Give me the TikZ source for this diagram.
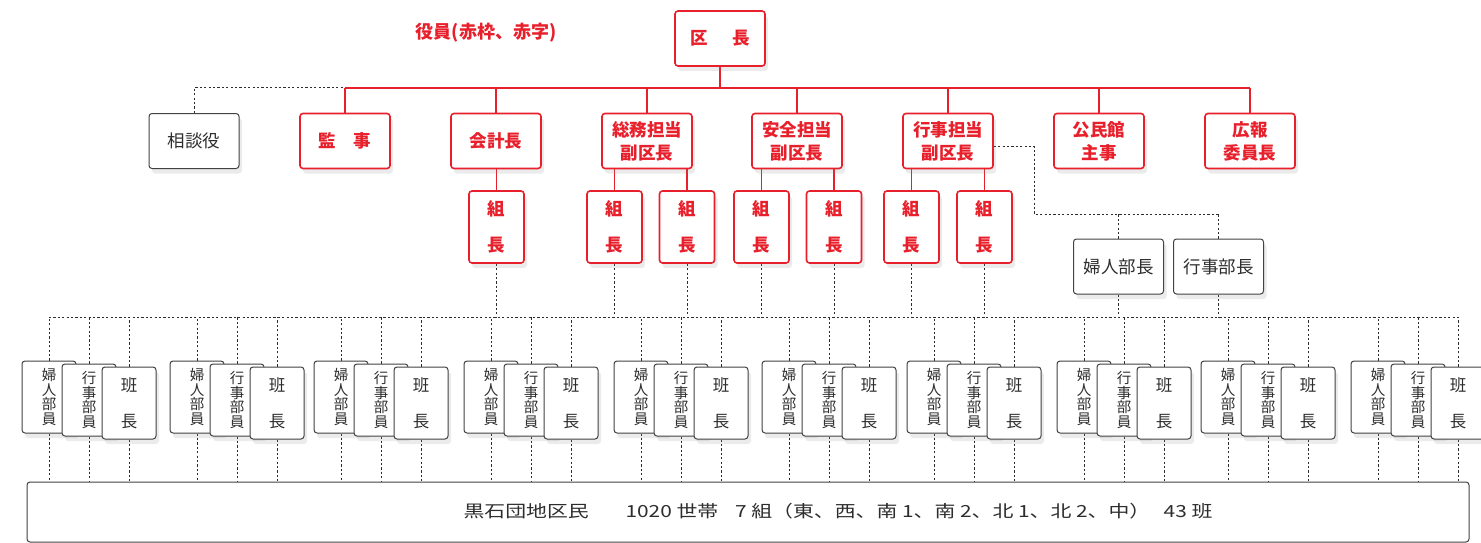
\documentclass[tikz,border=0pt]{standalone}
\usepackage{fontspec}
\setmainfont{Noto Sans CJK JP}
\newfontfamily\hirogaki[FakeStretch=1.25]{Noto Sans CJK JP}
\usetikzlibrary{shadows}
\definecolor{akawaku}{RGB}{232,32,44}
\definecolor{sumi}{RGB}{45,45,45}
\pgfdeclarelayer{bg}
\pgfsetlayers{bg,main}
\tikzset{
  hako/.style={fill=white, rounded corners=3pt, align=center, minimum width=90pt, minimum height=55pt, inner sep=0pt},
  kage/.style={drop shadow={shadow xshift=3pt, shadow yshift=-5pt, opacity=.16}},
  waku/.style={hako, kage, draw=akawaku, text=akawaku, line width=1.6pt, font=\fontsize{17.5}{23}\selectfont\bfseries},
  kumicho/.style={waku, minimum width=55pt, minimum height=72pt, font=\fontsize{17.5}{36}\selectfont\bfseries},
  kuro/.style={hako, kage, draw=sumi!90, text=sumi, line width=1pt, font=\fontsize{17.5}{23}\selectfont},
  buin/.style={kuro, minimum width=54pt, minimum height=72pt, font=\fontsize{14.5}{14.5}\selectfont},
  akasen/.style={draw=akawaku, line width=1.2pt},
  tensen/.style={draw=sumi, line width=1pt, dash pattern=on 2.2pt off 2.2pt}
}
\begin{document}
\begin{tikzpicture}[x=1pt,y=-1pt]
\useasboundingbox (0,0) rectangle (1481,543);
\node[text=akawaku, font=\fontsize{18}{18}\selectfont\bfseries] (yakuin) at (486,33) {役員(赤枠、赤字)};
\node[waku] (kucho) at (720,38.5) {区\hspace{1.4em}長};
\node[kuro] (sodan) at (194,141) {相談役};
\node[waku] (kansa) at (345,141) {監　事};
\node[waku] (kaikei) at (496,141) {会計長};
\node[waku] (somu) at (647,141) {総務担当\\副区長};
\node[waku] (anzen) at (797,141) {安全担当\\副区長};
\node[waku] (gyoji) at (948,141) {行事担当\\副区長};
\node[waku] (kominkan) at (1099,141) {公民館\\主事};
\node[waku] (koho) at (1250,141) {広報\\委員長};
\coordinate (bus) at (720,88);
\foreach \n/\x in {1/496.5,2/614.5,3/687,4/761.5,5/834,6/911.5,7/984.5}
  \node[kumicho] (kumi\n) at (\x,227) {組\\長};
\node[kuro] (fbucho) at (1118.5,266.5) {婦人部長};
\node[kuro] (gbucho) at (1218.5,266.5) {行事部長};
\coordinate (kado) at (1034,214);
\coordinate (hl) at (49,317);
\foreach \x [count=\i] in {22,170,314,464,614,762,907,1057,1201,1351} {
  \node[buin] (fu\i) at (\x+27,397) {婦\\人\\部\\員};
  \node[buin] (gy\i) at (\x+67,400) {行\\事\\部\\員};
  \node[buin, font=\fontsize{16.5}{36}\selectfont] (han\i) at (\x+107,403) {班\\長};
}
\node[hako, draw=sumi!90, line width=1pt, minimum width=1442pt, minimum height=60pt] (min) at (748,512) {};
\node[text=sumi, font=\hirogaki\fontsize{16.7}{16.7}\selectfont] (minmei) at (838,511) {黒石団地区民\hspace{2.2em}1020 世帯\hspace{1em}7 組（東、西、南 1、南 2、北 1、北 2、中）\hspace{0.8em}43 班};
\begin{pgfonlayer}{bg}
\draw[akasen] (kucho.south) -- (kucho |- bus);
\draw[akasen] (kansa |- bus) -- (koho |- bus);
\foreach \n in {kansa,kaikei,somu,anzen,gyoji,kominkan,koho}
  \draw[akasen] (\n.north) -- (\n |- bus);
\draw[tensen] (sodan.north) -- (sodan |- bus) -- (kansa |- bus);
\draw[akasen] (kumi1.north) -- (kumi1 |- kaikei.south);
\foreach \k/\p in {2/somu,3/somu,4/anzen,5/anzen,6/gyoji,7/gyoji}
  \draw[akasen] (kumi\k.north) -- (kumi\k |- \p.south);
\foreach \k in {1,...,7}
  \draw[tensen] (kumi\k.south) -- (kumi\k |- hl);
\draw[tensen] ([yshift=-5pt]gyoji.east) -| (kado) -- (gbucho |- kado);
\foreach \b in {fbucho,gbucho} {
  \draw[tensen] (\b.north) -- (\b |- kado);
  \draw[tensen] (\b.south) -- (\b |- hl);
}
\draw[tensen] (hl) -- (han10.north |- hl);
\foreach \i in {1,...,10}
  \foreach \m in {fu,gy,han} {
    \draw[tensen] (\m\i.north) -- (\m\i |- hl);
    \draw[tensen] (\m\i.south) -- (\m\i |- min.north);
  }
\end{pgfonlayer}
\end{tikzpicture}
\end{document}
